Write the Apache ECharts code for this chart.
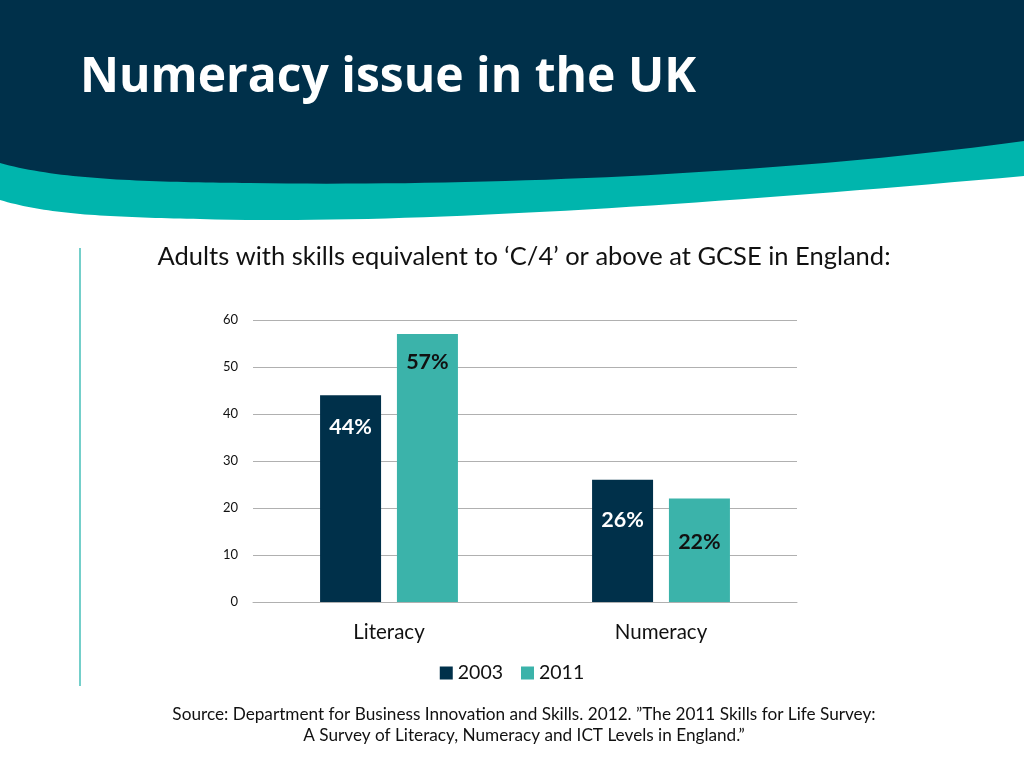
<!DOCTYPE html>
<html>
<head>
<meta charset="utf-8">
<style>
html,body{margin:0;padding:0;background:#fff;}
#chart{width:1024px;height:768px;}
</style>
<script src="https://cdn.jsdelivr.net/npm/echarts@6/dist/echarts.min.js"></script>
</head>
<body>
<div id="chart"></div>
<script>
const categories = ['Literacy', 'Numeracy'];
const seriesNames = ['2003', '2011'];
const values2003 = [44, 26];
const values2011 = [57, 22];
const yTicks = [0, 10, 20, 30, 40, 50, 60];

const titleText = 'Numeracy issue in the UK';
const subtitleText = 'Adults with skills equivalent to ‘C/4’ or above at GCSE in England:';
const sourceLines = ['Source: Department for Business Innovation and Skills. 2012. ”The 2011 Skills for Life Survey:',
                     'A Survey of Literacy, Numeracy and ICT Levels in England.”'];

const labelOffsets2003 = [16, 24];
const labelOffsets2011 = [12, 27];

const navy = '#00304A';
const teal = '#00B5AD';
const bar2011 = '#3BB3AA';

function makeData(vals, offs) {
  return vals.map((v, i) => ({ value: v, label: { distance: 5 + offs[i] } }));
}

// decorative header shapes: cubic bezier segments sampled into polygon outlines
function cubic(p0, p1, p2, p3, n) {
  const pts = [];
  for (let i = 0; i <= n; i++) {
    const t = i / n, u = 1 - t;
    pts.push([
      u*u*u*p0[0] + 3*u*u*t*p1[0] + 3*u*t*t*p2[0] + t*t*t*p3[0],
      u*u*u*p0[1] + 3*u*u*t*p1[1] + 3*u*t*t*p2[1] + t*t*t*p3[1]
    ]);
  }
  return pts;
}
function wave(segs) {
  let pts = [[0, 0], [1024, 0]];
  segs.forEach(s => { pts = pts.concat(cubic(s[0], s[1], s[2], s[3], 40)); });
  return pts;
}
const tealShape = wave([
  [[1024, 176], [700, 205], [400, 225], [200, 219]],
  [[200, 219], [110, 217], [50, 215], [0, 200]]
]);
const navyShape = wave([
  [[1024, 141], [800, 172], [500, 187], [250, 183]],
  [[250, 183], [150, 182], [60, 180], [0, 163]]
]);

const chart = echarts.init(document.getElementById('chart'), null, { renderer: 'canvas' });
chart.setOption({
  animation: false,
  textStyle: { fontFamily: 'Lato' },
  graphic: [
    { type: 'polygon', z: -10, shape: { points: tealShape }, style: { fill: teal } },
    { type: 'polygon', z: -9, shape: { points: navyShape }, style: { fill: navy } },
    { type: 'text', x: 80, y: 78, style: { text: titleText, fill: '#ffffff', font: '700 48px "Open Sans"', verticalAlign: 'middle' } },
    { type: 'rect', shape: { x: 79, y: 248, width: 2, height: 438 }, style: { fill: '#74CFCA' } },
    { type: 'text', x: 524, y: 257, style: { text: subtitleText, fill: '#111', font: '25.5px Lato', align: 'center', verticalAlign: 'middle' } },
    { type: 'text', x: 524, y: 714, style: { text: sourceLines[0], fill: '#111', font: '17.2px Lato', align: 'center', verticalAlign: 'middle' } },
    { type: 'text', x: 524, y: 735, style: { text: sourceLines[1], fill: '#111', font: '17.2px Lato', align: 'center', verticalAlign: 'middle' } }
  ],
  grid: { left: 253, right: 227, top: 320, bottom: 166, containLabel: false },
  legend: {
    data: seriesNames,
    top: 658,
    left: 'center',
    icon: 'rect',
    itemWidth: 13,
    itemHeight: 13,
    itemGap: 18,
    textStyle: { fontSize: 19.5, color: '#111', fontFamily: 'Lato' }
  },
  xAxis: {
    type: 'category',
    data: categories,
    axisLine: { show: true, lineStyle: { color: '#b0b0b0', width: 1 } },
    axisTick: { show: false },
    axisLabel: { fontSize: 20.5, color: '#111', margin: 20, fontFamily: 'Lato' }
  },
  yAxis: {
    type: 'value',
    min: yTicks[0],
    max: yTicks[yTicks.length - 1],
    interval: 10,
    axisLine: { show: false },
    axisTick: { show: false },
    axisLabel: { fontSize: 13, color: '#111', margin: 15, fontFamily: 'Lato' },
    splitLine: { lineStyle: { color: '#b0b0b0', width: 1 } }
  },
  series: [
    {
      name: seriesNames[0], type: 'bar', data: makeData(values2003, labelOffsets2003),
      barWidth: 61, barGap: '26%',
      itemStyle: { color: navy },
      label: { show: true, position: 'insideTop', formatter: '{c}%', color: '#ffffff', fontSize: 21.5, fontWeight: 'bold', fontFamily: 'Lato' }
    },
    {
      name: seriesNames[1], type: 'bar', data: makeData(values2011, labelOffsets2011),
      barWidth: 61,
      itemStyle: { color: bar2011 },
      label: { show: true, position: 'insideTop', formatter: '{c}%', color: '#111111', fontSize: 21.5, fontWeight: 'bold', fontFamily: 'Lato' }
    }
  ]
});
</script>
</body>
</html>
